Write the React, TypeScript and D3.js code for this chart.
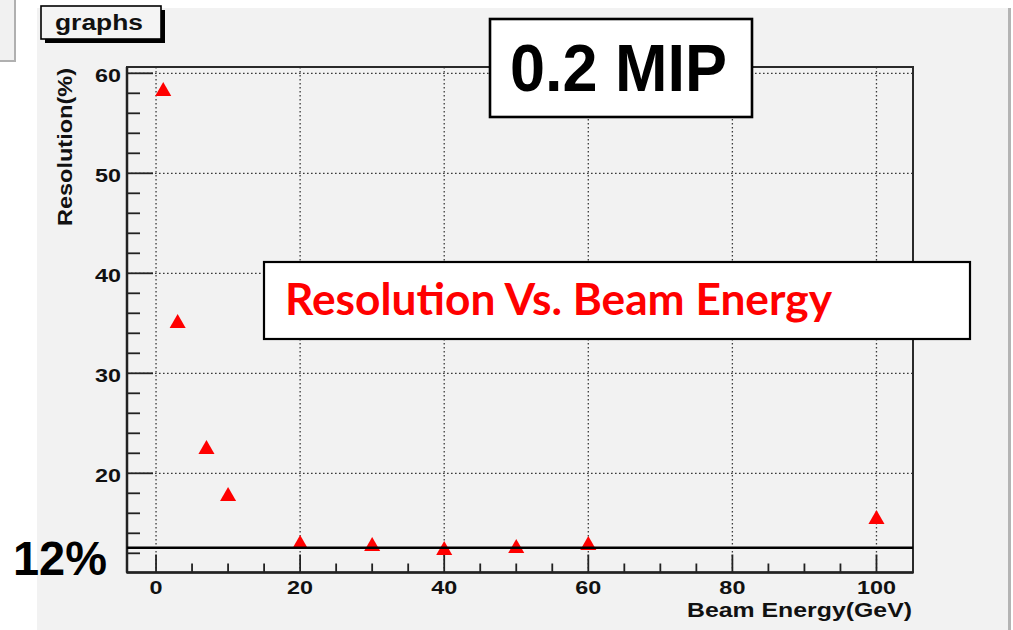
import React from "react";
import * as d3 from "d3";

// Beam energy (GeV) and measured resolution (%)
const energies = [1, 3, 7, 10, 20, 30, 40, 50, 60, 100];
const resolution = [58.3, 35.1, 22.5, 17.8, 13.0, 12.8, 12.4, 12.6, 12.9, 15.5];

const xMajorTicks = [0, 20, 40, 60, 80, 100];
const xMinorTicks = d3.range(0, 101, 5).filter((v) => v % 20 !== 0);
const yMajorTicks = [20, 30, 40, 50, 60];
const yMinorTicks = d3.range(12, 61, 2).filter((v) => v % 10 !== 0);

// Reference level drawn across the plot
const referenceLevel = 12.55;
const referenceLabel = "12%";

const W = 1013;
const H = 630;

const frame = { left: 127, right: 913, top: 67, bottom: 572.5 };

const x = d3.scaleLinear().domain([-4.03, 105.07]).range([frame.left, frame.right]);
const y = d3.scaleLinear().domain([10.08, 60.63]).range([frame.bottom, frame.top]);

const sansFont = "'Liberation Sans', Arial, Helvetica, sans-serif";

// ROOT-style wide bold labels: digits are 0.556 em in Helvetica metrics
const tickFont = 18;
const tickStretch = 1.3;
const tickWidth = (s: string) => s.length * 0.556 * tickFont * tickStretch;

const triangle = d3.symbol().type(d3.symbolTriangle).size(112);

export default function App() {
  return (
    <div style={{ position: "fixed", left: 0, top: 0, width: W, height: H, background: "#fff" }}>
      <svg width={W} height={H} viewBox={`0 0 ${W} ${H}`} style={{ display: "block" }}>
        {/* canvas backgrounds */}
        <rect x={0} y={0} width={W} height={H} fill="#ffffff" />
        <rect x={0} y={0} width={15} height={61} fill="#f1f1f1" />
        <path d="M15,0 V61 H0" fill="none" stroke="#b0b0b0" strokeWidth={2} />
        <rect x={37} y={8} width={971} height={622} fill="#f2f2f2" />
        <rect x={1008} y={8} width={3} height={622} fill="#b4b4b4" />

        {/* grid */}
        <g stroke="#3a3a3a" strokeWidth={1.3} strokeDasharray="1.6 2.4">
          {xMajorTicks.map((t) => (
            <line key={`gx${t}`} x1={x(t)} x2={x(t)} y1={frame.top} y2={frame.bottom} />
          ))}
          {yMajorTicks.map((t) => (
            <line key={`gy${t}`} x1={frame.left} x2={frame.right} y1={y(t)} y2={y(t)} />
          ))}
        </g>

        {/* frame */}
        <rect
          x={frame.left}
          y={frame.top}
          width={frame.right - frame.left}
          height={frame.bottom - frame.top}
          fill="none"
          stroke="#2a2a2a"
          strokeWidth={2}
        />
        <line x1={frame.left} x2={frame.left} y1={frame.top} y2={frame.bottom} stroke="#222" strokeWidth={2.5} />
        <line x1={frame.left} x2={frame.right} y1={frame.bottom} y2={frame.bottom} stroke="#222" strokeWidth={2.5} />

        {/* ticks */}
        <g stroke="#222" strokeWidth={1.8}>
          {xMajorTicks.map((t) => (
            <line key={`tx${t}`} x1={x(t)} x2={x(t)} y1={frame.bottom} y2={frame.bottom - 18} />
          ))}
          {xMinorTicks.map((t) => (
            <line key={`mx${t}`} x1={x(t)} x2={x(t)} y1={frame.bottom} y2={frame.bottom - 9} />
          ))}
          {yMajorTicks.map((t) => (
            <line key={`ty${t}`} x1={frame.left} x2={frame.left + 26} y1={y(t)} y2={y(t)} />
          ))}
          {yMinorTicks.map((t) => (
            <line key={`my${t}`} x1={frame.left} x2={frame.left + 13} y1={y(t)} y2={y(t)} />
          ))}
        </g>

        {/* tick labels */}
        <g fontFamily={sansFont} fontWeight="bold" fontSize={tickFont} fill="#111">
          {xMajorTicks.map((t) => (
            <text
              key={`lx${t}`}
              x={x(t)}
              y={594}
              textAnchor="middle"
              textLength={tickWidth(String(t))}
              lengthAdjust="spacingAndGlyphs"
            >
              {t}
            </text>
          ))}
          {yMajorTicks.map((t) => (
            <text
              key={`ly${t}`}
              x={121}
              y={y(t) + 8.4}
              textAnchor="end"
              textLength={tickWidth(String(t))}
              lengthAdjust="spacingAndGlyphs"
            >
              {t}
            </text>
          ))}
        </g>

        {/* axis titles */}
        <text
          x={912}
          y={617}
          textAnchor="end"
          fontFamily={sansFont}
          fontWeight="bold"
          fontSize={19.5}
          textLength={225}
          lengthAdjust="spacingAndGlyphs"
          fill="#111"
        >
          Beam Energy(GeV)
        </text>
        <text
          transform="translate(72,147) rotate(-90)"
          textAnchor="middle"
          fontFamily={sansFont}
          fontWeight="bold"
          fontSize={20}
          textLength={158}
          lengthAdjust="spacingAndGlyphs"
          fill="#111"
        >
          Resolution(%)
        </text>

        {/* data markers */}
        <g fill="#ff0000">
          {energies.map((e, i) => (
            <path
              key={`p${e}`}
              d={triangle() as string}
              transform={`translate(${x(e)},${y(resolution[i]) + 1})`}
            />
          ))}
        </g>

        {/* reference line */}
        <line
          x1={frame.left}
          x2={frame.right}
          y1={y(referenceLevel)}
          y2={y(referenceLevel)}
          stroke="#000"
          strokeWidth={2.6}
        />
        <text
          x={13}
          y={575}
          fontFamily={sansFont}
          fontWeight="bold"
          fontSize={49}
          textLength={94}
          lengthAdjust="spacingAndGlyphs"
          fill="#000"
        >
          {referenceLabel}
        </text>

        {/* title pave */}
        <rect x={45} y={10} width={120} height={33} fill="#000" />
        <rect x={41} y={6} width={120} height={33} fill="#f4f4f4" stroke="#000" strokeWidth={1.6} />
        <text
          x={99}
          y={30}
          textAnchor="middle"
          fontFamily={sansFont}
          fontWeight="bold"
          fontSize={22}
          textLength={88}
          lengthAdjust="spacingAndGlyphs"
          fill="#111"
        >
          graphs
        </text>

        {/* threshold annotation */}
        <rect x={490} y={19} width={262} height={98} fill="#ffffff" stroke="#000" strokeWidth={2.6} />
        <text
          x={510}
          y={91}
          fontFamily={sansFont}
          fontWeight="bold"
          fontSize={66}
          textLength={217}
          lengthAdjust="spacingAndGlyphs"
          fill="#000"
        >
          0.2 MIP
        </text>

        {/* plot caption */}
        <rect x={264} y={262} width={706} height={77} fill="#ffffff" stroke="#000" strokeWidth={2.2} />
        <text
          x={285}
          y={315}
          fontFamily="Lato, 'Open Sans', sans-serif"
          fontWeight="bold"
          fontSize={44}
          textLength={547}
          lengthAdjust="spacingAndGlyphs"
          fill="#ff0000"
        >
          Resolution Vs. Beam Energy
        </text>
      </svg>
    </div>
  );
}
